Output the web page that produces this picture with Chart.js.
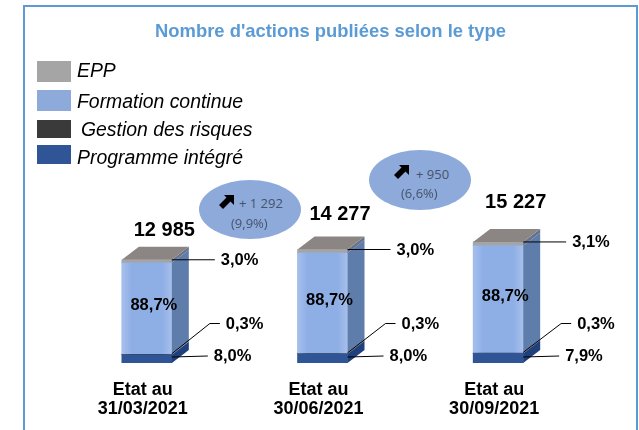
<!DOCTYPE html>
<html lang="fr">
<head>
<meta charset="utf-8">
<title>Nombre d'actions publiées selon le type</title>
<script src="https://cdn.jsdelivr.net/npm/chart.js@4/dist/chart.umd.min.js"></script>
<style>
  html, body { margin: 0; padding: 0; width: 639px; height: 430px; overflow: hidden; background: #fff; }
  #cadre { position: absolute; left: 23px; top: 5px; width: 611px; height: 450px; border: 2px solid #5b9bd5; }
  #graphique { position: absolute; left: 0; top: 0; }
  #titre { position: absolute; left: 23px; width: 615px; top: 20px; text-align: center; color: #5b9bd5;
           font: bold 18.4px "Liberation Sans", Arial, sans-serif; }
  .carre { position: absolute; left: 37px; width: 34px; }
  .nom { position: absolute; font: italic 19.4px "Liberation Sans", Arial, sans-serif; color: #000; white-space: nowrap; line-height: 20px; }
  .bulle { position: absolute; width: 102px; border-radius: 50%; background: #8eaadb; }
  .bulle span { position: absolute; font: 13px "Open Sans", sans-serif; color: #44546a; white-space: nowrap; line-height: 14px; }
  .bulle svg { position: absolute; }
</style>
</head>
<body>
<div id="cadre"></div>
<canvas id="graphique" width="639" height="430"></canvas>
<div id="titre">Nombre d'actions publiées selon le type</div>
<div id="legende"></div>
<div id="bulles"></div>

<script>
const periodes = [["Etat au", "31/03/2021"], ["Etat au", "30/06/2021"], ["Etat au", "30/09/2021"]];
const totaux = ["12 985", "14 277", "15 227"];

const programme = [1039, 1142, 1203];
const gestion = [39, 43, 46];
const formation = [11517, 12664, 13506];
const epp = [390, 428, 472];

const pctProgramme = ["8,0%", "8,0%", "7,9%"];
const pctGestion = ["0,3%", "0,3%", "0,3%"];
const pctFormation = ["88,7%", "88,7%", "88,7%"];
const pctEpp = ["3,0%", "3,0%", "3,1%"];

const hausses = ["+ 1 292", "+ 950"];
const haussesPct = ["(9,9%)", "(6,6%)"];

const POLICE = '"Liberation Sans", Arial, sans-serif';
const PROFONDEUR_X = 17;
const PROFONDEUR_Y = 13;
const COTES = ["#1f3f7d", "#2c2c2c", "#5f7dab", "#64728a"];
// decalage du total au dessus de chaque barre
const decalageTotal = [17, 23, 27];

// Faces laterale et superieure, puis les libelles
const cube3d = {
  id: "cube3d",
  afterDatasetsDraw(chart) {
    const ctx = chart.ctx;
    const n = chart.data.datasets.length;
    ctx.save();
    chart.data.datasets.forEach((ds, d) => {
      chart.getDatasetMeta(d).data.forEach(bar => {
        const droite = bar.x + bar.width / 2;
        const gauche = bar.x - bar.width / 2;
        ctx.fillStyle = COTES[d];
        ctx.beginPath();
        ctx.moveTo(droite, bar.y);
        ctx.lineTo(droite + PROFONDEUR_X, bar.y - PROFONDEUR_Y);
        ctx.lineTo(droite + PROFONDEUR_X, bar.base - PROFONDEUR_Y);
        ctx.lineTo(droite, bar.base);
        ctx.closePath();
        ctx.fill();

        if (d === n - 1) {
          ctx.fillStyle = "#8b8583";
          ctx.beginPath();
          ctx.moveTo(gauche, bar.y);
          ctx.lineTo(gauche + PROFONDEUR_X, bar.y - PROFONDEUR_Y);
          ctx.lineTo(droite + PROFONDEUR_X, bar.y - PROFONDEUR_Y);
          ctx.lineTo(droite, bar.y);
          ctx.closePath();
          ctx.fill();
        }

        // reflet sur la face avant bleue
        if (d === 2) {
          const reflet = ctx.createLinearGradient(gauche, 0, droite, 0);
          reflet.addColorStop(0, "rgba(255,255,255,0.22)");
          reflet.addColorStop(0.2, "rgba(255,255,255,0)");
          reflet.addColorStop(0.8, "rgba(255,255,255,0)");
          reflet.addColorStop(1, "rgba(255,255,255,0.22)");
          ctx.fillStyle = reflet;
          ctx.fillRect(gauche, bar.y, bar.width, bar.base - bar.y);
        }
      });
    });

    const metaBas = chart.getDatasetMeta(0).data;
    const metaForm = chart.getDatasetMeta(2).data;
    const metaHaut = chart.getDatasetMeta(3).data;
    ctx.textBaseline = "middle";
    ctx.fillStyle = "#000";
    ctx.strokeStyle = "#000";
    ctx.lineWidth = 1;

    metaHaut.forEach((bar, i) => {
      const droite = bar.x + bar.width / 2;
      const bas = metaBas[i];

      ctx.beginPath();
      ctx.moveTo(droite, bar.y);
      ctx.lineTo(droite + 43, bar.y);
      ctx.moveTo(droite, bas.y - 1);
      ctx.lineTo(droite + 38, 323.5);
      ctx.lineTo(droite + 48, 323.5);
      ctx.moveTo(droite, bas.base - 6);
      ctx.lineTo(droite + 36, bas.base - 7);
      ctx.stroke();

      ctx.font = "bold 16.5px " + POLICE;
      ctx.textAlign = "left";
      ctx.fillText(pctEpp[i], droite + 49, bar.y + 1);
      ctx.fillText(pctGestion[i], droite + 54, 324);
      ctx.fillText(pctProgramme[i], droite + 42, bas.base - 7);
      ctx.textAlign = "center";
      ctx.fillText(pctFormation[i], bar.x + 7, (metaForm[i].y + metaForm[i].base) / 2 - 3);

      ctx.font = "bold 20px " + POLICE;
      ctx.fillText(totaux[i], bar.x + 17.5, bar.y - PROFONDEUR_Y - decalageTotal[i] + 1);
    });
    ctx.restore();
  }
};

const barres = [
  { label: "Programme intégré", data: programme, backgroundColor: "#2f5597" },
  { label: "Gestion des risques", data: gestion, backgroundColor: "#3a3a3a" },
  { label: "Formation continue", data: formation, backgroundColor: "#8eaee6" },
  { label: "EPP", data: epp, backgroundColor: "#a5a5a5" }
];

new Chart(document.getElementById("graphique"), {
  type: "bar",
  data: {
    labels: periodes,
    datasets: barres.map(b => ({ ...b, barThickness: 50, borderWidth: 0, stack: "actions" }))
  },
  plugins: [cube3d],
  options: {
    responsive: false,
    animation: false,
    layout: { padding: { left: 59, right: 53, top: 204, bottom: 0 } },
    plugins: {
      legend: { display: false },
      tooltip: { enabled: false }
    },
    scales: {
      x: {
        stacked: true,
        grid: { display: false },
        border: { display: false },
        afterFit(scale) { scale.height = 67; },
        ticks: {
          color: "#000",
          padding: 9,
          labelOffset: -4,
          maxRotation: 0,
          font: { family: POLICE, size: 18, weight: "bold", lineHeight: 1.06 }
        }
      },
      y: { stacked: true, display: false, min: 0, max: 20000 }
    }
  }
});

// Legende : meme ordre que la source, espacements irreguliers
const lignesLegende = [
  { nom: "EPP", couleur: "#a5a5a5", haut: 61, h: 21, xTexte: 77, yTexte: 60 },
  { nom: "Formation continue", couleur: "#8eaadb", haut: 90, h: 21, xTexte: 77, yTexte: 91 },
  { nom: "Gestion des risques", couleur: "#3a3a3a", haut: 120, h: 18, xTexte: 81, yTexte: 119 },
  { nom: "Programme intégré", couleur: "#2f5597", haut: 145, h: 19, xTexte: 77, yTexte: 147 }
];
const legende = document.getElementById("legende");
lignesLegende.forEach(l => {
  legende.insertAdjacentHTML("beforeend",
    `<div class="carre" style="top:${l.haut}px;height:${l.h}px;background:${l.couleur}"></div>` +
    `<div class="nom" style="left:${l.xTexte}px;top:${l.yTexte}px">${l.nom}</div>`);
});

// Bulles de progression entre deux dates
const fleche = '<path d="M7 1 L17 1 L17 11 L13.5 7.5 L6 15 L2 11 L9.5 3.5 Z" fill="#000"/>';
const placesBulles = [
  { x: 199, y: 180, h: 59, xFleche: 18, yFleche: 14, xHausse: 40, yHausse: 16, xPct: 32, yPct: 36 },
  { x: 369, y: 150, h: 60, xFleche: 23, yFleche: 14, xHausse: 47, yHausse: 17, xPct: 32, yPct: 36 }
];
const bulles = document.getElementById("bulles");
placesBulles.forEach((p, i) => {
  bulles.insertAdjacentHTML("beforeend",
    `<div class="bulle" style="left:${p.x}px;top:${p.y}px;height:${p.h}px">` +
    `<svg style="left:${p.xFleche}px;top:${p.yFleche}px" width="18" height="16" viewBox="0 0 18 16">${fleche}</svg>` +
    `<span style="left:${p.xHausse}px;top:${p.yHausse}px">${hausses[i]}</span>` +
    `<span style="left:${p.xPct}px;top:${p.yPct}px">${haussesPct[i]}</span></div>`);
});
</script>
</body>
</html>
